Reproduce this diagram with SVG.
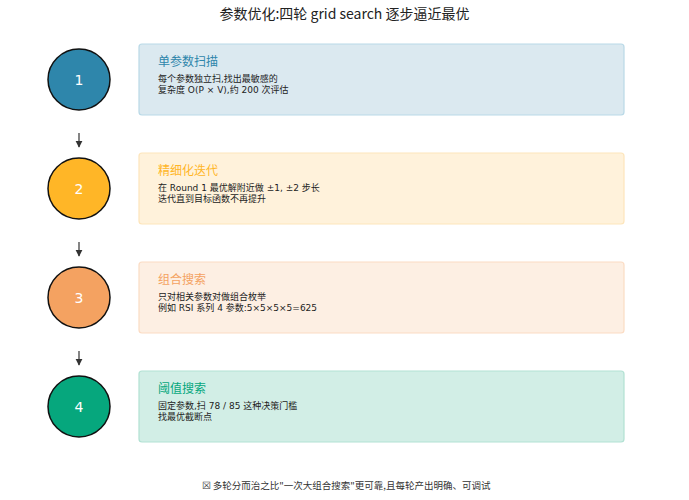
<svg xmlns="http://www.w3.org/2000/svg" width="689" height="500" viewBox="0 0 689 500">
<defs>
<marker id="ah" viewBox="0 0 10 10" refX="9" refY="5" markerWidth="6" markerHeight="6" orient="auto">
<path d="M0,0 L10,5 L0,10 z" fill="#333"/>
</marker>
</defs>
<style>
text { font-family: "Noto Sans CJK SC", "Liberation Sans", sans-serif; }
.title { font-size: 14px; fill: #222; }
.num { font-size: 14px; fill: #fff; font-family: "DejaVu Sans", "Noto Sans CJK SC", sans-serif; }
.h { font-size: 12px; }
.b { font-size: 9px; fill: #222; font-family: "DejaVu Sans", "Noto Sans CJK SC", sans-serif; }
.foot { font-size: 9.5px; fill: #333; }
.circ { stroke: #111; stroke-width: 1.5; }
.box { stroke-width: 1.2; }
.conn { stroke: #333; stroke-width: 1.2; fill: none; }
</style>
<rect width="689" height="500" fill="#fff"/>
<text class="title" x="344.5" y="19" text-anchor="middle">参数优化:四轮 grid search 逐步逼近最优</text>

<g id="connectors">
<line class="conn" x1="79" y1="133" x2="79" y2="147" marker-end="url(#ah)"/>
<line class="conn" x1="79" y1="242" x2="79" y2="256" marker-end="url(#ah)"/>
<line class="conn" x1="79" y1="351" x2="79" y2="365" marker-end="url(#ah)"/>
</g>

<g id="step1">
<ellipse class="circ" cx="79" cy="79.5" rx="31" ry="30.5" fill="#2e86ab"/>
<text class="num" x="79" y="84.5" text-anchor="middle">1</text>
<rect class="box" x="139" y="44" width="485" height="71" rx="3" fill="#dbe9f0" stroke="#b9d9e7"/>
<text class="h" x="158" y="66" fill="#2e86ab">单参数扫描</text>
<text class="b" x="158" y="82">每个参数独立扫,找出最敏感的</text>
<text class="b" x="158" y="93">复杂度 O(P × V),约 200 次评估</text>
</g>

<g id="step2">
<ellipse class="circ" cx="79" cy="188.5" rx="31" ry="30.5" fill="#ffb627"/>
<text class="num" x="79" y="193.5" text-anchor="middle">2</text>
<rect class="box" x="139" y="153" width="485" height="71" rx="3" fill="#fff2db" stroke="#fde5bb"/>
<text class="h" x="158" y="175" fill="#ffb627">精细化迭代</text>
<text class="b" x="158" y="191">在 Round 1 最优解附近做 ±1, ±2 步长</text>
<text class="b" x="158" y="202">迭代直到目标函数不再提升</text>
</g>

<g id="step3">
<ellipse class="circ" cx="79" cy="297.5" rx="31" ry="30.5" fill="#f4a261"/>
<text class="num" x="79" y="302.5" text-anchor="middle">3</text>
<rect class="box" x="139" y="262" width="485" height="71" rx="3" fill="#fdefe3" stroke="#fbdcc4"/>
<text class="h" x="158" y="284" fill="#f4a261">组合搜索</text>
<text class="b" x="158" y="300">只对相关参数对做组合枚举</text>
<text class="b" x="158" y="311">例如 RSI 系列 4 参数:5×5×5×5=625</text>
</g>

<g id="step4">
<ellipse class="circ" cx="79" cy="406.5" rx="31" ry="30.5" fill="#06a77d"/>
<text class="num" x="79" y="411.5" text-anchor="middle">4</text>
<rect class="box" x="139" y="371" width="485" height="71" rx="3" fill="#d2eee6" stroke="#b2e1d3"/>
<text class="h" x="158" y="393" fill="#06a77d">阈值搜索</text>
<text class="b" x="158" y="409">固定参数,扫 78 / 85 这种决策门槛</text>
<text class="b" x="158" y="420">找最优截断点</text>
</g>

<text class="foot" x="346" y="489" text-anchor="middle">☒ 多轮分而治之比"一次大组合搜索"更可靠,且每轮产出明确、可调试</text>
</svg>
